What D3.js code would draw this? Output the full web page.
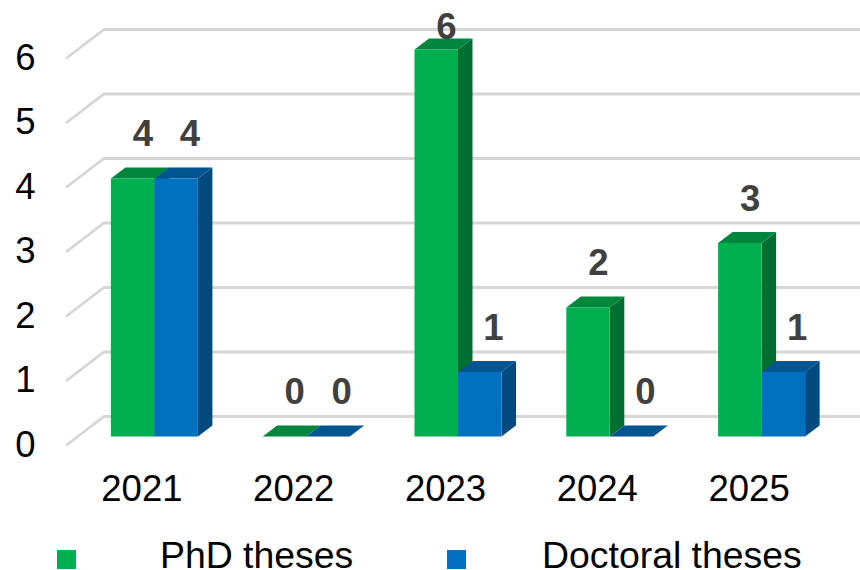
<!DOCTYPE html>
<html><head><meta charset="utf-8">
<script src="https://cdn.jsdelivr.net/npm/d3@7"></script>
<style>html,body{margin:0;background:#fff}svg{display:block}text{font-family:"Liberation Sans",Arial,sans-serif}</style>
</head><body><svg id="c" width="860" height="570"></svg>
<script>
const categories = ["2021","2022","2023","2024","2025"];
const phdTheses = [4,0,6,2,3];
const doctoralTheses = [4,0,1,0,1];
const yTicks = [0,1,2,3,4,5,6];
const seriesNames = ["PhD theses","Doctoral theses"];

const svg = d3.select("#c");
const W = 860;
const x = d3.scaleBand().domain(categories).range([66,825]);
const yBar = d3.scaleLinear().domain([0,6]).range([436.5,49.5]);
const wallOff = {dx:38, dy:-29};
const barBack = {dx:14.5, dy:-11};
const barBase = {dx:12.5};
const yFront = v => yBar(v) + 9;            // front floor edge
const yWall = v => yFront(v) + wallOff.dy;  // back wall
const barW = 43.5;
const styles = [
  {front:"#00B050", top:"#00863D", side:"#006F2F"},
  {front:"#0070C0", top:"#005590", side:"#004A7F"}
];
const fs = 36.5;
const legendFs = 37.4;

// gridlines
const grid = svg.append("g").attr("fill","none").attr("stroke","#d6d6d6").attr("stroke-width",2.8);
yTicks.forEach(t=>{
  grid.append("path").attr("d",d3.line()([[66,yFront(t)],[66+wallOff.dx,yWall(t)],[W,yWall(t)]]));
});

// bars
const pts = a => a.map(p=>p.join(",")).join(" ");
categories.forEach(c=>{
  const cx = x(c)+x.bandwidth()/2+barBase.dx;
  [phdTheses,doctoralTheses].forEach((vals,s)=>{
    const v = vals[categories.indexOf(c)];
    const st = styles[s];
    const x0 = cx + (s-1)*barW, x1 = x0+barW;
    const y0 = yBar(0), y1 = yBar(v);
    const g = svg.append("g");
    if (v>0) {
      g.append("polygon").attr("points",pts([[x1,y1],[x1+barBack.dx,y1+barBack.dy],[x1+barBack.dx,y0+barBack.dy],[x1,y0]])).attr("fill",st.side);
    }
    g.append("polygon").attr("points",pts([[x0,y1],[x0+barBack.dx,y1+barBack.dy],[x1+barBack.dx,y1+barBack.dy],[x1,y1]])).attr("fill",st.top);
    if (v>0) {
      g.append("rect").attr("x",x0).attr("y",y1).attr("width",barW).attr("height",y0-y1).attr("fill",st.front);
    }
  });
});

// data labels
categories.forEach((c,i)=>{
  const cx = x(c)+x.bandwidth()/2;
  [phdTheses,doctoralTheses].forEach((vals,s)=>{
    const v = vals[i];
    svg.append("text").attr("x",cx+1+s*47).attr("y",Math.max(39,yBar(v)-32.5))
      .attr("text-anchor","middle").attr("font-size",fs).attr("font-weight","bold").attr("fill","#404040").text(v);
  });
});

// y axis
const yAxisScale = d3.scaleLinear().domain([0,6]).range([yFront(0)-1,yFront(6)-1]);
const ya = svg.append("g").attr("transform","translate(35.5,0)").call(d3.axisLeft(yAxisScale).tickValues(yTicks).tickFormat(d3.format("d")).tickSize(0).tickPadding(0));
ya.select(".domain").remove();
ya.selectAll("text").attr("font-size",fs).attr("fill","#000").style("font-family",'"Liberation Sans",Arial,sans-serif');

// x axis
const xa = svg.append("g").attr("transform","translate(0,476)").call(d3.axisBottom(x).tickSize(0).tickPadding(0));
xa.select(".domain").remove();
xa.selectAll("text").attr("font-size",fs).attr("fill","#000").attr("dy",null).attr("y",24.5).style("font-family",'"Liberation Sans",Arial,sans-serif');

// legend
const legendItems = [{sx:57,tx:160},{sx:447,tx:542}];
seriesNames.forEach((n,i)=>{
  svg.append("rect").attr("x",legendItems[i].sx).attr("y",550).attr("width",19).attr("height",19).attr("fill",styles[i].front);
  svg.append("text").attr("x",legendItems[i].tx).attr("y",568).attr("font-size",legendFs).attr("fill","#000").text(n);
});
</script></body></html>
